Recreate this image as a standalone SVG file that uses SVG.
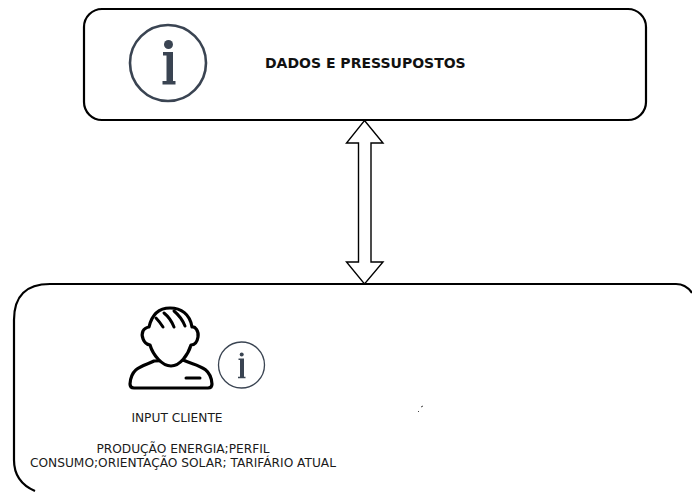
<svg xmlns="http://www.w3.org/2000/svg" width="692" height="492" viewBox="0 0 692 492">
<style>
.box{fill:#fff;stroke:#000;stroke-width:2.200}
.t{font-family:"DejaVu Sans",Verdana,sans-serif;font-size:12.2px;fill:#1a1a1a;text-anchor:middle}
.b{font-family:"DejaVu Sans",Verdana,sans-serif;font-size:14px;font-weight:bold;fill:#111}
.ic{fill:none;stroke:#3a4452}
.icf{fill:#3a4452}
.p{fill:#fff;stroke:#000;stroke-width:3.200;stroke-linejoin:round;stroke-linecap:round}
.l{fill:none;stroke:#000;stroke-width:3;stroke-linecap:round}
</style>
<rect width="692" height="492" fill="#fff"/>
<g id="node-dados">
<rect class="box" x="84" y="9" width="562" height="111" rx="18"/>
<circle class="ic" cx="168" cy="63" r="38" stroke-width="2.600"/>
<circle class="icf" cx="168.500" cy="44.500" r="4.500"/>
<path class="icf" d="M163 52H173V81H175.500V84.500H162.500V81H166.500V55.500H163Z"/>
<text class="b" x="265" y="68">DADOS E PRESSUPOSTOS</text>
</g>
<g id="node-input">
<path class="box" d="M692 293Q686 284 676 284H50Q14 284 14 320V460Q14 482 35 491"/>
<g id="icon-person">
<path class="p" d="M154 361C145 366 131 366 130 384Q130 388 134 388H208Q212 388 212 384C211 366 196 366 183 360Z"/>
<path class="p" d="M150 345C143 344 141 335 143 331C144 329 147 327 149 327C152 314 159 308 170 308C181 308 190 314 192 327C195 326 199 331 198 337C197 343 194 345 191 345C188 355 180 366 171 366C162 366 153 355 150 345Z"/>
<path class="l" d="M156 318C159 321 161 324 163 327M164 313C169 317 172 322 174 327M174 311C180 316 183 321 185 326M186 378H200"/>
</g>
<g id="icon-info">
<circle class="ic" cx="241.500" cy="365" r="23" stroke-width="1.300"/>
<circle class="icf" cx="241.700" cy="354.500" r="2"/>
<path class="icf" d="M238.500 358.500H244V376.800H245.500V378.300H238V376.800H240V360H238.500Z"/>
</g>
<text class="t" x="177" y="422">INPUT CLIENTE</text>
<text class="t" x="183" y="452.500">PRODUÇÃO ENERGIA;PERFIL</text>
<text class="t" x="183" y="467">CONSUMO;ORIENTAÇÃO SOLAR; TARIFÁRIO ATUAL</text>
<path d="M418 412L419 411M421 407L423 406" stroke="#444" stroke-width="1" fill="none"/>
</g>
<g id="connectors">
<path d="M364.500 120.500L383 143H371V262H383L364.500 284L346.500 262H358.500V143H346.500Z" fill="#fff" stroke="#000" stroke-width="1.400"/>
</g>
</svg>
